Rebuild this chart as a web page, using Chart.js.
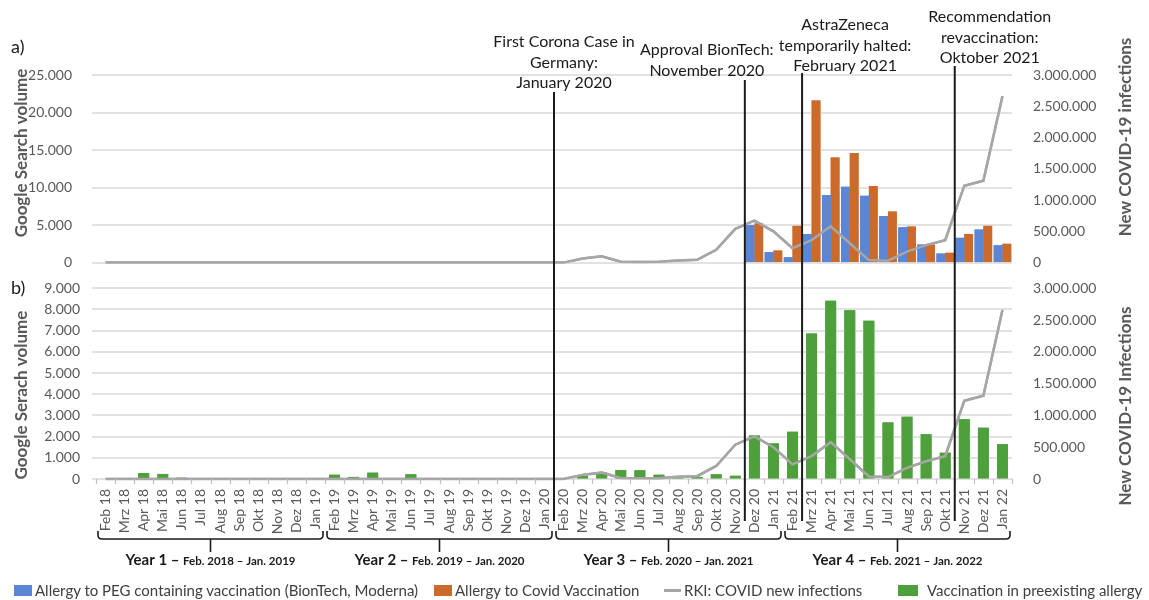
<!DOCTYPE html>
<html>
<head>
<meta charset="utf-8">
<script src="https://cdn.jsdelivr.net/npm/chart.js@4.4.0/dist/chart.umd.min.js"></script>
<style>
  body { margin: 0; background: #fff; font-family: Lato, sans-serif; }
  #wrap { position: relative; width: 1149px; height: 600px; overflow: hidden; }
  #topBox { position: absolute; left: 0; top: 0; width: 1149px; height: 276px; }
  #bottomBox { position: absolute; left: 0; top: 276px; width: 1149px; height: 324px; }
  .legend-item { position: absolute; top: 581px; font-size: 15px; color: #404040; display: flex; align-items: center; white-space: nowrap; }
  .sw { display: inline-block; width: 18px; height: 11px; margin-right: 3px; }
  .ln { display: inline-block; width: 17px; height: 3px; margin-right: 3px; background: #A6A6A6; }
</style>
</head>
<body>
<div id="wrap">
  <div id="topBox"><canvas id="topChart"></canvas></div>
  <div id="bottomBox"><canvas id="bottomChart"></canvas></div>
  <div class="legend-item" style="left:14px"><span class="sw" style="background:#5B86D6"></span>Allergy to PEG containing vaccination (BionTech, Moderna)</div>
  <div class="legend-item" style="left:434px"><span class="sw" style="background:#CC6A2C"></span>Allergy to Covid Vaccination</div>
  <div class="legend-item" style="left:664px"><span class="ln"></span>RKI: COVID new infections</div>
  <div class="legend-item" style="left:898px"><span class="sw" style="background:#4EA03C;width:20px;margin-right:9px"></span>Vaccination in preexisting allergy</div>
</div>
<script>
// months Feb 2018 - Jan 2022
const months = [
  'Feb 18', 'Mrz 18', 'Apr 18', 'Mai 18', 'Jun 18', 'Jul 18', 'Aug 18', 'Sep 18', 'Okt 18', 'Nov 18', 'Dez 18', 'Jan 19',
  'Feb 19', 'Mrz 19', 'Apr 19', 'Mai 19', 'Jun 19', 'Jul 19', 'Aug 19', 'Sep 19', 'Okt 19', 'Nov 19', 'Dez 19', 'Jan 20',
  'Feb 20', 'Mrz 20', 'Apr 20', 'Mai 20', 'Jun 20', 'Jul 20', 'Aug 20', 'Sep 20', 'Okt 20', 'Nov 20', 'Dez 20', 'Jan 21',
  'Feb 21', 'Mrz 21', 'Apr 21', 'Mai 21', 'Jun 21', 'Jul 21', 'Aug 21', 'Sep 21', 'Okt 21', 'Nov 21', 'Dez 21', 'Jan 22'
];

// a) Google search volume
const pegAllergy = [
  null, null, null, null, null, null, null, null, null, null, null, null,
  null, null, null, null, null, null, null, null, null, null, null, null,
  null, null, null, null, null, null, null, null, null, null, 5000, 1400,
  700, 3800, 9000, 10100, 8900, 6200, 4700, 2400, 1200, 3300, 4400, 2300
];
const covidVaccAllergy = [
  null, null, null, null, null, null, null, null, null, null, null, null,
  null, null, null, null, null, null, null, null, null, null, null, null,
  null, null, null, null, null, null, null, null, null, null, 5200, 1600,
  4900, 21600, 14000, 14600, 10200, 6800, 4800, 2400, 1300, 3800, 4900, 2500
];

// b) Google search volume
const vaccInAllergy = [
  0, 0, 280, 240, 60, 0, 0, 0, 0, 0, 0, 0,
  200, 100, 300, 50, 220, 0, 0, 0, 0, 0, 0, 50,
  30, 140, 300, 420, 410, 200, 50, 100, 220, 150, 2050, 1680,
  2230, 6870, 8410, 7960, 7470, 2670, 2940, 2110, 1240, 2820, 2420, 1640
];

// RKI new infections (right axis, both panels)
const rkiNewInfections = [
  0, 0, 0, 0, 0, 0, 0, 0, 0, 0, 0, 0,
  0, 0, 0, 0, 0, 0, 0, 0, 0, 0, 0, 0,
  0, 65000, 100000, 15000, 10000, 12000, 35000, 45000, 205000, 540000, 670000, 500000,
  230000, 360000, 580000, 310000, 40000, 30000, 175000, 280000, 360000, 1230000, 1310000, 2660000
];

// events: vertical line after this month index
const eventLabels = [
  ['First Corona Case in', 'Germany:', 'January 2020'],
  ['Approval BionTech:', 'November 2020'],
  ['AstraZeneca', 'temporarily halted:', 'February 2021'],
  ['Recommendation', 'revaccination:', 'Oktober 2021']
];
const eventAfterIndex = [23, 33, 36, 44];

const yearLabels = ['Year 1', 'Year 2', 'Year 3', 'Year 4'];
const yearRanges = ['Feb. 2018 \u2013 Jan. 2019', 'Feb. 2019 \u2013 Jan. 2020', 'Feb. 2020 \u2013 Jan. 2021', 'Feb. 2021 \u2013 Jan. 2022'];
const yearStart = [0, 12, 24, 36];
const yearEnd = [11, 23, 35, 47];

// layout for annotation texts (pixels)
const eventTextDx = [10, -38, 43, 35];
const eventTextY = [42, 50, 25, 17];
const eventLineTop = [92, 80, 73, 66];
const eventLineBottom = 521;
const bottomTop = 276;

const fmt = v => String(v).replace(/\B(?=(\d{3})+(?!\d))/g, '.');

Chart.defaults.font.family = 'Lato, sans-serif';
Chart.defaults.color = '#595959';

const tickFont = { size: 14 };
const gridColor = '#D9D9D9';

const boundaryX = (scale, i) => (scale.getPixelForValue(i) + scale.getPixelForValue(i + 1)) / 2;

const vTitle = (ctx, text, x, y) => {
  ctx.save();
  ctx.translate(x, y);
  ctx.rotate(-Math.PI / 2);
  ctx.font = 'bold 17px Lato, sans-serif';
  ctx.fillStyle = '#595959';
  ctx.textAlign = 'center';
  ctx.textBaseline = 'middle';
  ctx.fillText(text, 0, 0);
  ctx.restore();
};

// horizontal gridlines at the left axis ticks, then datasets again on top of them
const hGrid = {
  id: 'hGrid',
  afterDatasetsDraw(chart) {
    const { ctx, chartArea: a } = chart;
    const y = chart.scales.y;
    ctx.save();
    ctx.strokeStyle = gridColor;
    ctx.lineWidth = 1.5;
    y.ticks.forEach(t => {
      const py = Math.round(y.getPixelForValue(t.value));
      ctx.beginPath();
      ctx.moveTo(a.left - 4, py);
      ctx.lineTo(a.right, py);
      ctx.stroke();
    });
    ctx.restore();
    const metas = chart.getSortedVisibleDatasetMetas();
    for (let i = metas.length - 1; i >= 0; i--) {
      metas[i].controller.draw();
    }
  }
};

const topDecor = {
  id: 'topDecor',
  afterDraw(chart) {
    const ctx = chart.ctx;
    const x = chart.scales.x;
    ctx.save();
    ctx.fillStyle = '#1a1a1a';
    ctx.font = '18px Lato, sans-serif';
    ctx.textBaseline = 'middle';
    ctx.fillText('a)', 11, 47);

    vTitle(ctx, 'Google Search volume', 22, 153);
    vTitle(ctx, 'New COVID-19 infections', 1126, 137);

    ctx.strokeStyle = '#1a1a1a';
    ctx.lineWidth = 2;
    ctx.font = '16px Lato, sans-serif';
    ctx.textAlign = 'center';
    eventAfterIndex.forEach((idx, k) => {
      const lx = boundaryX(x, idx);
      ctx.beginPath();
      ctx.moveTo(lx, eventLineTop[k]);
      ctx.lineTo(lx, chart.height);
      ctx.stroke();
      eventLabels[k].forEach((t, j) => {
        ctx.fillText(t, lx + eventTextDx[k], eventTextY[k] + j * 20.5);
      });
    });
    ctx.restore();
  }
};

const bottomDecor = {
  id: 'bottomDecor',
  afterDraw(chart) {
    const ctx = chart.ctx;
    const x = chart.scales.x;
    const a = chart.chartArea;
    ctx.save();

    // small tick marks between the months
    ctx.strokeStyle = '#BFBFBF';
    ctx.lineWidth = 1.2;
    for (let i = -1; i < months.length; i++) {
      const tx = Math.round(boundaryX(x, i)) + 0.5;
      ctx.beginPath();
      ctx.moveTo(tx, a.bottom);
      ctx.lineTo(tx, a.bottom + 5);
      ctx.stroke();
    }

    ctx.fillStyle = '#1a1a1a';
    ctx.font = '18px Lato, sans-serif';
    ctx.textBaseline = 'middle';
    ctx.fillText('b)', 11, 12);

    vTitle(ctx, 'Google Serach volume', 22, 395 - bottomTop);
    vTitle(ctx, 'New COVID-19 Infections', 1126, 406 - bottomTop);

    ctx.strokeStyle = '#1a1a1a';
    ctx.lineWidth = 2;
    eventAfterIndex.forEach(idx => {
      const lx = boundaryX(x, idx);
      ctx.beginPath();
      ctx.moveTo(lx, 0);
      ctx.lineTo(lx, eventLineBottom - bottomTop);
      ctx.stroke();
    });

    // year braces
    ctx.lineWidth = 1.6;
    const yTop = 531 - bottomTop, yBar = 539 - bottomTop, yStem = 552 - bottomTop;
    yearLabels.forEach((lab, k) => {
      const x0 = boundaryX(x, yearStart[k] - 1) + 2;
      const x1 = boundaryX(x, yearEnd[k]) - 2;
      const xc = (x0 + x1) / 2, r = 4;
      ctx.beginPath();
      ctx.moveTo(x0, yTop);
      ctx.lineTo(x0, yBar - r);
      ctx.quadraticCurveTo(x0, yBar, x0 + r, yBar);
      ctx.lineTo(x1 - r, yBar);
      ctx.quadraticCurveTo(x1, yBar, x1, yBar - r);
      ctx.lineTo(x1, yTop);
      ctx.moveTo(xc, yBar);
      ctx.lineTo(xc, yStem);
      ctx.stroke();

      const big = lab + ' \u2013 ';
      ctx.font = 'bold 15px Lato, sans-serif';
      const w1 = ctx.measureText(big).width;
      ctx.font = 'bold 11.5px Lato, sans-serif';
      const w2 = ctx.measureText(yearRanges[k]).width;
      const sx = xc - (w1 + w2) / 2;
      ctx.textAlign = 'left';
      ctx.textBaseline = 'alphabetic';
      ctx.font = 'bold 15px Lato, sans-serif';
      ctx.fillText(big, sx, 565 - bottomTop);
      ctx.font = 'bold 11.5px Lato, sans-serif';
      ctx.fillText(yearRanges[k], sx + w1, 565 - bottomTop);
    });
    ctx.restore();
  }
};

// left / right value axes; label offset done with invisible tick marks
const valueAxis = (pos, max, step, gap, width) => ({
  type: 'linear',
  position: pos, min: 0, max: max,
  ticks: { stepSize: step, callback: v => fmt(v), font: tickFont, padding: 2, autoSkip: false },
  grid: { display: true, drawOnChartArea: false, drawTicks: true, tickLength: gap, tickColor: 'rgba(0,0,0,0)' },
  border: { display: false },
  afterFit: s => { s.width = width; }
});

new Chart(document.getElementById('topChart'), {
  type: 'bar',
  data: {
    labels: months,
    datasets: [
      {
        type: 'line', label: 'RKI: COVID new infections', data: rkiNewInfections, yAxisID: 'y1',
        borderColor: '#A6A6A6', borderWidth: 2.5, pointRadius: 0, order: 0
      },
      {
        type: 'bar', label: 'Allergy to PEG containing vaccination (BionTech, Moderna)', data: pegAllergy, yAxisID: 'y',
        backgroundColor: '#5B86D6', categoryPercentage: 0.92, barPercentage: 1, order: 1
      },
      {
        type: 'bar', label: 'Allergy to Covid Vaccination', data: covidVaccAllergy, yAxisID: 'y',
        backgroundColor: '#CC6A2C', categoryPercentage: 0.92, barPercentage: 1, order: 1
      }
    ]
  },
  options: {
    responsive: true,
    maintainAspectRatio: false,
    animation: false,
    layout: { padding: { top: 75, bottom: 13.4, left: 0, right: 0 } },
    plugins: { legend: { display: false }, tooltip: { enabled: false } },
    scales: {
      x: { type: 'category', offset: true, display: false },
      y: valueAxis('left', 25000, 5000, 22, 96),
      y1: valueAxis('right', 3000000, 500000, 19, 137)
    }
  },
  plugins: [hGrid, topDecor]
});

new Chart(document.getElementById('bottomChart'), {
  type: 'bar',
  data: {
    labels: months,
    datasets: [
      {
        type: 'line', label: 'RKI: COVID new infections', data: rkiNewInfections, yAxisID: 'y1',
        borderColor: '#A6A6A6', borderWidth: 2.5, pointRadius: 0, order: 0
      },
      {
        type: 'bar', label: 'Vaccination in preexisting allergy', data: vaccInAllergy, yAxisID: 'y',
        backgroundColor: '#4EA03C', categoryPercentage: 0.57, barPercentage: 1, order: 1
      }
    ]
  },
  options: {
    responsive: true,
    maintainAspectRatio: false,
    animation: false,
    layout: { padding: { top: 12.3, bottom: 0, left: 0, right: 0 } },
    plugins: { legend: { display: false }, tooltip: { enabled: false } },
    scales: {
      x: {
        type: 'category', offset: true,
        ticks: { font: tickFont, minRotation: 90, maxRotation: 90, autoSkip: false, padding: 5 },
        grid: { drawOnChartArea: false, drawTicks: true, tickLength: 5, color: 'rgba(0,0,0,0)', offset: true },
        border: { display: false },
        afterFit: s => { s.height = 121; }
      },
      y: valueAxis('left', 9000, 1000, 14, 96),
      y1: valueAxis('right', 3000000, 500000, 19, 137)
    }
  },
  plugins: [hGrid, bottomDecor]
});
</script>
</body>
</html>
